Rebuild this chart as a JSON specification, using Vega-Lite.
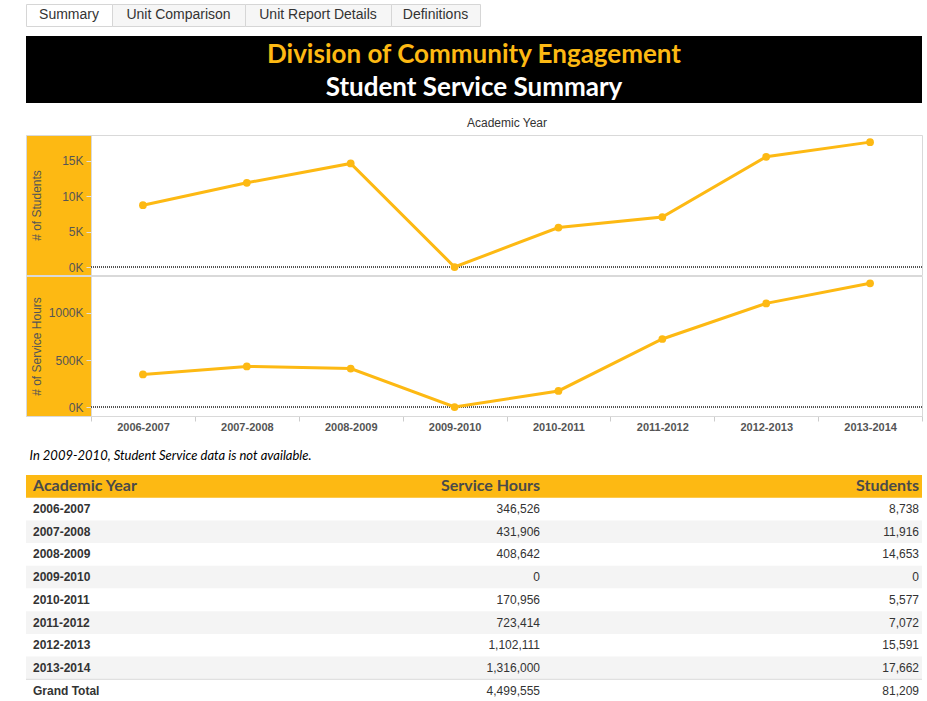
{
  "$schema": "https://vega.github.io/schema/vega-lite/v6.json",
  "padding": {"left": 25, "top": 3, "right": 6, "bottom": 0},
  "background": "white",
  "spacing": 12,
  "config": {
    "view": {"stroke": null},
    "font": "Liberation Sans",
    "axis": {"labelFont": "Liberation Sans", "titleFont": "Liberation Sans"}
  },
  "datasets": {
    "rows": [
      {"year": "2006-2007", "hours": 346526, "students": 8738},
      {"year": "2007-2008", "hours": 431906, "students": 11916},
      {"year": "2008-2009", "hours": 408642, "students": 14653},
      {"year": "2009-2010", "hours": 0, "students": 0},
      {"year": "2010-2011", "hours": 170956, "students": 5577},
      {"year": "2011-2012", "hours": 723414, "students": 7072},
      {"year": "2012-2013", "hours": 1102111, "students": 15591},
      {"year": "2013-2014", "hours": 1316000, "students": 17662}
    ],
    "cols": [
      {"col": "Academic Year"},
      {"col": "Service Hours"},
      {"col": "Students"}
    ],
    "tabs": [
      {"tab": "Summary"},
      {"tab": "Unit Comparison"},
      {"tab": "Unit Report Details"},
      {"tab": "Definitions"}
    ],
    "banner": [
      {"line": "Division of Community Engagement", "role": "division"},
      {"line": "Student Service Summary", "role": "report"}
    ]
  },
  "vconcat": [
    {
      "spacing": 9,
      "vconcat": [
        {
          "spacing": 0,
          "bounds": "flush",
          "hconcat": [
            {"width": 86, "height": 22, "data": {"name": "tabs"}, "transform": [{"filter": "datum.tab == 'Summary'"}],
             "view": {"fill": "#ffffff", "stroke": "#d6d6d6"},
             "mark": {"type": "text", "fontSize": 14, "color": "#333333"},
             "encoding": {"text": {"field": "tab"}}},
            {"width": 133, "height": 22, "data": {"name": "tabs"}, "transform": [{"filter": "datum.tab == 'Unit Comparison'"}],
             "view": {"fill": "#f6f6f6", "stroke": "#d6d6d6"},
             "mark": {"type": "text", "fontSize": 14, "color": "#333333"},
             "encoding": {"text": {"field": "tab"}}},
            {"width": 146, "height": 22, "data": {"name": "tabs"}, "transform": [{"filter": "datum.tab == 'Unit Report Details'"}],
             "view": {"fill": "#f6f6f6", "stroke": "#d6d6d6"},
             "mark": {"type": "text", "fontSize": 14, "color": "#333333"},
             "encoding": {"text": {"field": "tab"}}},
            {"width": 89, "height": 22, "data": {"name": "tabs"}, "transform": [{"filter": "datum.tab == 'Definitions'"}],
             "view": {"fill": "#f6f6f6", "stroke": "#d6d6d6"},
             "mark": {"type": "text", "fontSize": 14, "color": "#333333"},
             "encoding": {"text": {"field": "tab"}}}
          ]
        },
        {
          "width": 896,
          "height": 67,
          "data": {"name": "banner"},
          "view": {"fill": "#000000", "stroke": null},
          "mark": {"type": "text", "font": "Lato", "fontWeight": "bold", "fontSize": 26, "dy": 2},
          "encoding": {
            "y": {"field": "role", "type": "nominal", "scale": {"type": "band", "domain": ["division", "report"], "paddingInner": 0, "paddingOuter": 0}, "axis": null},
            "text": {"field": "line"},
            "color": {"field": "role", "type": "nominal", "scale": {"domain": ["division", "report"], "range": ["#FDB913", "#ffffff"]}, "legend": null}
          }
        }
      ]
    },
    {
      "spacing": -2,
      "vconcat": [
        {
          "spacing": 0,
          "bounds": "flush",
          "hconcat": [
            {"width": 65, "height": 140, "data": {"values": []}, "mark": "rect",
             "view": {"fill": "#FDB913", "stroke": "#d9d9d9"}},
            {
              "width": 831,
              "height": 140,
              "data": {"name": "rows"},
              "view": {"stroke": "#d9d9d9"},
              "encoding": {
                "y": {"field": "students", "type": "quantitative",
                  "scale": {"domain": [-1130, 18670], "nice": false, "zero": false},
                  "axis": {"orient": "left", "values": [0, 5000, 10000, 15000],
                    "labelExpr": "format(datum.value/1000,'d') + 'K'",
                    "domain": false, "ticks": true, "tickSize": 5, "tickColor": "#e0e0e0", "labelPadding": 3,
                    "labelColor": "#555555", "labelFontSize": 12, "grid": false,
                    "title": "# of Students", "titleX": -55, "titleY": 70, "titleAngle": -90,
                    "titleAlign": "center", "titleBaseline": "middle", "titleFontWeight": "normal",
                    "titleFontSize": 12, "titleColor": "#555555"}}
              },
              "layer": [
                {
                  "mark": {"type": "rule", "color": "#555555", "strokeDash": [1, 1], "strokeWidth": 1},
                  "encoding": {"y": {"datum": 0, "type": "quantitative", "title": "# of Students"}}
                },
                {
                  "mark": {"type": "line", "color": "#FDB913", "strokeWidth": 3, "point": {"filled": true, "size": 60, "color": "#FDB913"}},
                  "encoding": {
                    "x": {"field": "year", "type": "nominal", "sort": null,
                      "scale": {"type": "band", "paddingInner": 0, "paddingOuter": 0},
                      "axis": {"orient": "top", "title": "Academic Year", "labels": false, "ticks": false, "domain": false,
                        "titleFontWeight": "normal", "titleFontSize": 12, "titleColor": "#333333", "titlePadding": 6}}
                  }
                }
              ]
            }
          ]
        },
        {
          "spacing": 0,
          "bounds": "flush",
          "hconcat": [
            {"width": 65, "height": 140, "data": {"values": []}, "mark": "rect",
             "view": {"fill": "#FDB913", "stroke": "#d9d9d9"}},
            {
              "width": 831,
              "height": 140,
              "data": {"name": "rows"},
              "view": {"stroke": "#d9d9d9"},
              "encoding": {
                "y": {"field": "hours", "type": "quantitative",
                  "scale": {"domain": [-95700, 1393600], "nice": false, "zero": false},
                  "axis": {"orient": "left", "values": [0, 500000, 1000000],
                    "labelExpr": "format(datum.value/1000,'d') + 'K'",
                    "domain": false, "ticks": true, "tickSize": 5, "tickColor": "#e0e0e0", "labelPadding": 3,
                    "labelColor": "#555555", "labelFontSize": 12, "grid": false,
                    "title": "# of Service Hours", "titleX": -55, "titleY": 70, "titleAngle": -90,
                    "titleAlign": "center", "titleBaseline": "middle", "titleFontWeight": "normal",
                    "titleFontSize": 12, "titleColor": "#555555"}}
              },
              "layer": [
                {
                  "mark": {"type": "rule", "color": "#555555", "strokeDash": [1, 1], "strokeWidth": 1},
                  "encoding": {"y": {"datum": 0, "type": "quantitative", "title": "# of Service Hours"}}
                },
                {
                  "mark": {"type": "line", "color": "#FDB913", "strokeWidth": 3, "point": {"filled": true, "size": 60, "color": "#FDB913"}},
                  "encoding": {
                    "x": {"field": "year", "type": "nominal", "sort": null,
                      "scale": {"type": "band", "paddingInner": 0, "paddingOuter": 0},
                      "axis": {"orient": "bottom", "title": "In 2009-2010, Student Service data is not available.",
                        "labelAngle": 0, "labelFontWeight": "bold", "labelFontSize": 11, "labelColor": "#555555", "labelPadding": 0,
                        "ticks": true, "tickBand": "extent", "tickColor": "#cccccc", "tickSize": 5,
                        "domain": true, "domainColor": "#d9d9d9",
                        "titleX": -62, "titleY": 39, "titleAlign": "left", "titleAnchor": "start", "titleBaseline": "middle",
                        "titleFont": "Lato", "titleFontStyle": "italic", "titleFontWeight": "normal", "titleFontSize": 13, "titleColor": "#000000"}}
                  }
                }
              ]
            }
          ]
        }
      ]
    },
    {
      "spacing": 0,
      "bounds": "flush",
      "hconcat": [
        {
          "width": 280,
          "height": 227,
          "layer": [
            {"data": {"name": "rows"}, "transform": [{"window": [{"op": "row_number", "as": "rn"}]}],
             "mark": {"type": "rect"},
             "encoding": {
               "y": {"field": "year", "type": "nominal", "scale": {"type": "band", "domain": ["hdr", "2006-2007", "2007-2008", "2008-2009", "2009-2010", "2010-2011", "2011-2012", "2012-2013", "2013-2014", "Grand Total"], "paddingInner": 0, "paddingOuter": 0}, "axis": null},
               "color": {"condition": {"test": "datum.rn % 2 == 0", "value": "#f4f4f4"}, "value": "#ffffff"}}},
            {"data": {"name": "cols"}, "transform": [{"filter": "datum.col == 'Academic Year'"}],
             "mark": {"type": "rect", "color": "#FDB913"},
             "encoding": {"y": {"datum": "hdr", "type": "nominal", "axis": null}}},
            {"data": {"name": "cols"}, "transform": [{"filter": "datum.col == 'Academic Year'"}],
             "mark": {"type": "text", "align": "left", "dx": 7, "font": "Lato", "fontWeight": "bold", "fontSize": 16, "color": "#4a4a4a"},
             "encoding": {"y": {"datum": "hdr", "type": "nominal", "axis": null}, "x": {"value": 0}, "text": {"field": "col"}}},
            {"data": {"name": "rows"},
             "mark": {"type": "text", "align": "left", "dx": 7, "fontWeight": "bold", "fontSize": 12, "color": "#333333"},
             "encoding": {"y": {"field": "year", "type": "nominal", "axis": null}, "x": {"value": 0}, "text": {"field": "year"}}},
            {"data": {"name": "rows"}, "transform": [{"aggregate": [{"op": "count", "as": "n_rows"}]}],
             "mark": {"type": "text", "align": "left", "dx": 7, "fontWeight": "bold", "fontSize": 12, "color": "#333333"},
             "encoding": {"y": {"datum": "Grand Total", "type": "nominal", "axis": null}, "x": {"value": 0}, "text": {"value": "Grand Total"}}},
            {"data": {"name": "rows"}, "transform": [{"aggregate": [{"op": "count", "as": "n_rule1"}]}],
             "mark": {"type": "rule", "color": "#d9d9d9"},
             "encoding": {"y": {"datum": "Grand Total", "type": "nominal", "bandPosition": 0, "axis": null}}}
          ]
        },
        {
          "width": 237,
          "height": 227,
          "layer": [
            {"data": {"name": "rows"}, "transform": [{"window": [{"op": "row_number", "as": "rn"}]}],
             "mark": {"type": "rect"},
             "encoding": {
               "y": {"field": "year", "type": "nominal", "scale": {"type": "band", "domain": ["hdr", "2006-2007", "2007-2008", "2008-2009", "2009-2010", "2010-2011", "2011-2012", "2012-2013", "2013-2014", "Grand Total"], "paddingInner": 0, "paddingOuter": 0}, "axis": null},
               "color": {"condition": {"test": "datum.rn % 2 == 0", "value": "#f4f4f4"}, "value": "#ffffff"}}},
            {"data": {"name": "cols"}, "transform": [{"filter": "datum.col == 'Service Hours'"}],
             "mark": {"type": "rect", "color": "#FDB913"},
             "encoding": {"y": {"datum": "hdr", "type": "nominal", "axis": null}}},
            {"data": {"name": "cols"}, "transform": [{"filter": "datum.col == 'Service Hours'"}],
             "mark": {"type": "text", "align": "right", "dx": -3, "font": "Lato", "fontWeight": "bold", "fontSize": 16, "color": "#4a4a4a"},
             "encoding": {"y": {"datum": "hdr", "type": "nominal", "axis": null}, "x": {"value": "width"}, "text": {"field": "col"}}},
            {"data": {"name": "rows"},
             "mark": {"type": "text", "align": "right", "dx": -3, "fontSize": 12, "color": "#333333"},
             "encoding": {"y": {"field": "year", "type": "nominal", "axis": null}, "x": {"value": "width"}, "text": {"field": "hours", "format": ","}}},
            {"data": {"name": "rows"}, "transform": [{"aggregate": [{"op": "sum", "field": "hours", "as": "total_hours"}]}],
             "mark": {"type": "text", "align": "right", "dx": -3, "fontSize": 12, "color": "#333333"},
             "encoding": {"y": {"datum": "Grand Total", "type": "nominal", "axis": null}, "x": {"value": "width"}, "text": {"field": "total_hours", "type": "quantitative", "format": ","}}},
            {"data": {"name": "rows"}, "transform": [{"aggregate": [{"op": "count", "as": "n_rule2"}]}],
             "mark": {"type": "rule", "color": "#d9d9d9"},
             "encoding": {"y": {"datum": "Grand Total", "type": "nominal", "bandPosition": 0, "axis": null}}}
          ]
        },
        {
          "width": 379,
          "height": 227,
          "layer": [
            {"data": {"name": "rows"}, "transform": [{"window": [{"op": "row_number", "as": "rn"}]}],
             "mark": {"type": "rect"},
             "encoding": {
               "y": {"field": "year", "type": "nominal", "scale": {"type": "band", "domain": ["hdr", "2006-2007", "2007-2008", "2008-2009", "2009-2010", "2010-2011", "2011-2012", "2012-2013", "2013-2014", "Grand Total"], "paddingInner": 0, "paddingOuter": 0}, "axis": null},
               "color": {"condition": {"test": "datum.rn % 2 == 0", "value": "#f4f4f4"}, "value": "#ffffff"}}},
            {"data": {"name": "cols"}, "transform": [{"filter": "datum.col == 'Students'"}],
             "mark": {"type": "rect", "color": "#FDB913"},
             "encoding": {"y": {"datum": "hdr", "type": "nominal", "axis": null}}},
            {"data": {"name": "cols"}, "transform": [{"filter": "datum.col == 'Students'"}],
             "mark": {"type": "text", "align": "right", "dx": -3, "font": "Lato", "fontWeight": "bold", "fontSize": 16, "color": "#4a4a4a"},
             "encoding": {"y": {"datum": "hdr", "type": "nominal", "axis": null}, "x": {"value": "width"}, "text": {"field": "col"}}},
            {"data": {"name": "rows"},
             "mark": {"type": "text", "align": "right", "dx": -3, "fontSize": 12, "color": "#333333"},
             "encoding": {"y": {"field": "year", "type": "nominal", "axis": null}, "x": {"value": "width"}, "text": {"field": "students", "format": ","}}},
            {"data": {"name": "rows"}, "transform": [{"aggregate": [{"op": "sum", "field": "students", "as": "total_students"}]}],
             "mark": {"type": "text", "align": "right", "dx": -3, "fontSize": 12, "color": "#333333"},
             "encoding": {"y": {"datum": "Grand Total", "type": "nominal", "axis": null}, "x": {"value": "width"}, "text": {"field": "total_students", "type": "quantitative", "format": ","}}},
            {"data": {"name": "rows"}, "transform": [{"aggregate": [{"op": "count", "as": "n_rule3"}]}],
             "mark": {"type": "rule", "color": "#d9d9d9"},
             "encoding": {"y": {"datum": "Grand Total", "type": "nominal", "bandPosition": 0, "axis": null}}}
          ]
        }
      ]
    }
  ]
}
